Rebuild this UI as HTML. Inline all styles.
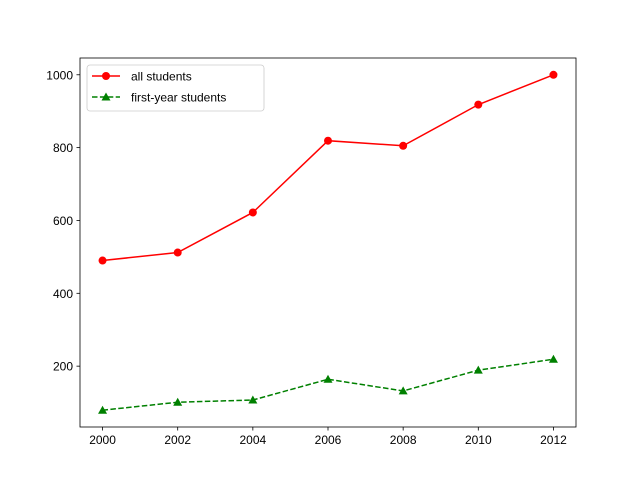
<!DOCTYPE html>
<html><head><meta charset="utf-8"><style>body{margin:0;background:#fff}svg{display:block;font-family:"Liberation Sans","DejaVu Sans",sans-serif}</style></head>
<body>
<svg id="chart" width="640" height="480"></svg>
<script>
const years = [2000, 2002, 2004, 2006, 2008, 2010, 2012];
const allStudents = [490, 512, 622, 819, 805, 918, 1000];
const firstYear = [79, 101, 107, 164, 132, 189, 219];
const yTicks = [200, 400, 600, 800, 1000];
const xTicks = [2000, 2002, 2004, 2006, 2008, 2010, 2012];

const L=80,R=576,T=58,B=427;
const allVals=allStudents.concat(firstYear);
const ymin=Math.min(...allVals), ymax=Math.max(...allVals), yp=(ymax-ymin)*0.05;
const y0=ymin-yp, y1=ymax+yp;
const xmin=Math.min(...years), xmax=Math.max(...years), xp=(xmax-xmin)*0.05;
const x0=xmin-xp, x1=xmax+xp;
const sx=v=>L+(v-x0)/(x1-x0)*(R-L);
const sy=v=>B-(v-y0)/(y1-y0)*(B-T);
const NS='http://www.w3.org/2000/svg';
const svg=document.getElementById('chart');
function mk(tag,attrs,parent){const e=document.createElementNS(NS,tag);for(const k in attrs)e.setAttribute(k,attrs[k]);(parent||svg).appendChild(e);return e;}

// ticks
xTicks.forEach(t=>{
  const g=mk('g',{});
  
  
  mk('line',{x1:sx(t),x2:sx(t),y1:B,y2:B+3.5,stroke:'#000','stroke-width':0.8},g);
  const tx=mk('text',{x:sx(t),y:B+17,'font-size':12,'text-anchor':'middle'},g);tx.textContent=t;
});
yTicks.forEach(t=>{
  const g=mk('g',{});
  
  
  mk('line',{x1:L-3.5,x2:L,y1:sy(t),y2:sy(t),stroke:'#000','stroke-width':0.8},g);
  const tx=mk('text',{x:L-7,y:sy(t)+4.5,'font-size':12,'text-anchor':'end'},g);tx.textContent=t;
});

// series
function series(vals,color,dash,marker,name){
  const g=mk('g',{});
  
  
  const pts=years.map((y,i)=>sx(y)+','+sy(vals[i])).join(' ');
  const pl=mk('polyline',{points:pts,fill:'none',stroke:color,'stroke-width':1.5},g);
  if(dash)pl.setAttribute('stroke-dasharray','5.5,2.4');
  years.forEach((y,i)=>{
    const cx=sx(y),cy=sy(vals[i]);
    let m;
    if(marker==='o')m=mk('circle',{cx:cx,cy:cy,r:4,fill:color},g);
    else m=mk('polygon',{points:`${cx},${cy-4.5} ${cx-4.5},${cy+3.5} ${cx+4.5},${cy+3.5}`,fill:color},g);
    
    
  });
}
series(allStudents,'#ff0000',false,'o','all-students-line');
series(firstYear,'#008000',true,'^','first-year-students-line');

// frame
const fr=mk('rect',{x:L,y:T,width:R-L,height:B-T,fill:'none',stroke:'#000','stroke-width':0.8});



// legend
const lg=mk('g',{});


mk('rect',{x:87,y:65,width:177,height:46,rx:3,fill:'#fff',stroke:'#ccc','stroke-width':0.8},lg);
mk('line',{x1:92,x2:120,y1:76,y2:76,stroke:'#ff0000','stroke-width':1.5},lg);
mk('circle',{cx:106,cy:76,r:4,fill:'#ff0000'},lg);
const t1=mk('text',{x:131,y:80.5,'font-size':12},lg);t1.textContent='all students';
mk('line',{x1:92,x2:120,y1:97,y2:97,stroke:'#008000','stroke-width':1.5,'stroke-dasharray':'5.5,2.4'},lg);
mk('polygon',{points:'106,92.5 101.5,100.5 110.5,100.5',fill:'#008000'},lg);
const t2=mk('text',{x:131,y:101.5,'font-size':12},lg);t2.textContent='first-year students';
</script>
</body></html>
